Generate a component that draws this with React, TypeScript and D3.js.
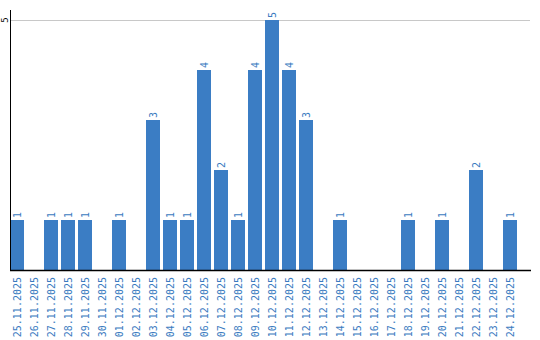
import React from "react";
import * as d3 from "d3";

const categories = [
  "25.11.2025","26.11.2025","27.11.2025","28.11.2025","29.11.2025","30.11.2025",
  "01.12.2025","02.12.2025","03.12.2025","04.12.2025","05.12.2025","06.12.2025",
  "07.12.2025","08.12.2025","09.12.2025","10.12.2025","11.12.2025","12.12.2025",
  "13.12.2025","14.12.2025","15.12.2025","16.12.2025","17.12.2025","18.12.2025",
  "19.12.2025","20.12.2025","21.12.2025","22.12.2025","23.12.2025","24.12.2025",
];
const values = [1,0,1,1,1,0,1,0,3,1,1,4,2,1,4,5,4,3,0,1,0,0,0,1,0,1,0,2,0,1];
const yTicks = [5];

const W = 540, H = 340;
const left = 10, baseY = 270, topY = 20;
const BAR = "#3b7dc4";
const LABEL = "#3a7bbf";
const FONT = "'DejaVu Sans Mono', 'Liberation Mono', monospace";

export default function App() {
  const x = d3.scaleBand<string>().domain(categories).range([left, left + 30 * 17 - 3]).paddingInner(3 / 17).paddingOuter(0);
  const y = d3.scaleLinear().domain([0, 5]).range([baseY, topY]);
  return (
    <svg width={W} height={H} style={{ position: "absolute", left: 0, top: 0 }}>
      <rect x={0} y={0} width={W} height={H} fill="#fff" />
      {yTicks.map((t) => (
        <g key={t}>
          <line x1={left} x2={530} y1={y(t) + 0.5} y2={y(t) + 0.5} stroke="#c8c8c8" />
          <text transform={`translate(8,${y(t)}) rotate(-90)`} textAnchor="middle" fontFamily={FONT} fontSize={9} fill="#000">{t}</text>
        </g>
      ))}
      {categories.map((c, i) => {
        const v = values[i];
        const bx = x(c)!;
        const cx = bx + x.bandwidth() / 2;
        return (
          <g key={c}>
            {v > 0 && <rect x={bx} y={y(v)} width={x.bandwidth()} height={baseY - y(v)} fill={BAR} />}
            {v > 0 && (
              <text transform={`translate(${cx + 4},${y(v) - 2}) rotate(-90)`} textAnchor="start" fontFamily={FONT} fontSize={10} fill={LABEL}>{v}</text>
            )}
            <text transform={`translate(${cx + 4},${baseY + 7}) rotate(-90)`} textAnchor="end" fontFamily={FONT} fontSize={10} fill={LABEL}>{c}</text>
          </g>
        );
      })}
      <line x1={left} x2={531} y1={baseY + 0.5} y2={baseY + 0.5} stroke="#000" strokeWidth={1.5} />
      <line x1={left + 0.5} x2={left + 0.5} y1={10} y2={baseY} stroke="#000" strokeWidth={1} />
    </svg>
  );
}
